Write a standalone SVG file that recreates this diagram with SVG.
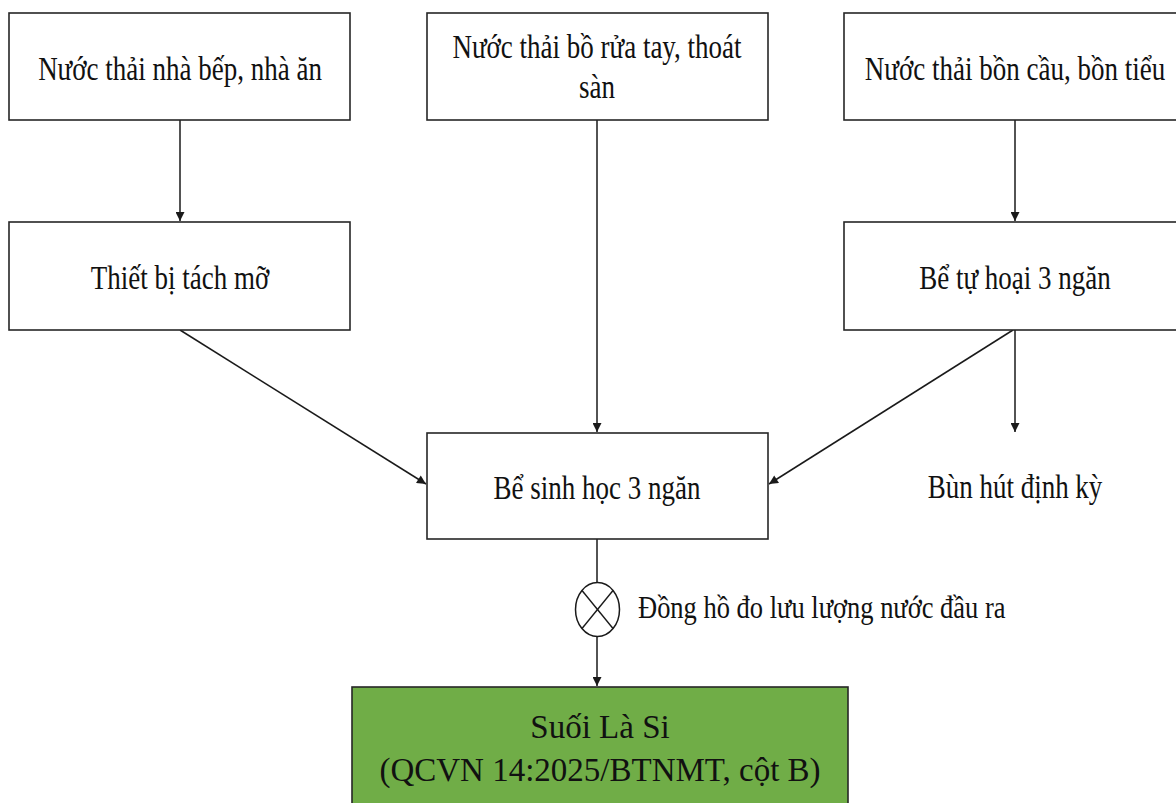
<svg xmlns="http://www.w3.org/2000/svg" width="1176" height="803" viewBox="0 0 1176 803">
  <style>
    .box { fill: #ffffff; stroke: #262626; stroke-width: 1.6; }
    .green { fill: #70ad47; stroke: #262626; stroke-width: 1.6; }
    .lbl { font-family: "Liberation Serif", "Times New Roman", serif; font-size: 27px; fill: #111111; text-anchor: middle; }
    .big { font-family: "Liberation Serif", "Times New Roman", serif; font-size: 33px; fill: #111111; text-anchor: middle; }
    .edge { fill: none; stroke: #1a1a1a; stroke-width: 1.5; }
  </style>
  <defs>
    <marker id="arrow" viewBox="0 0 10 10" refX="10" refY="5" markerWidth="10" markerHeight="9" markerUnits="userSpaceOnUse" orient="auto">
      <path d="M0,0 L10,5 L0,10 Z" fill="#1a1a1a"/>
    </marker>
  </defs>
  <rect width="1176" height="803" fill="#ffffff"/>

  <g id="connectors">
    <line class="edge" x1="180" y1="120" x2="180" y2="221" marker-end="url(#arrow)"/>
    <line class="edge" x1="597" y1="120" x2="597" y2="432" marker-end="url(#arrow)"/>
    <line class="edge" x1="1015" y1="120" x2="1015" y2="221" marker-end="url(#arrow)"/>
    <line class="edge" x1="180" y1="330" x2="426" y2="484" marker-end="url(#arrow)"/>
    <line class="edge" x1="1013" y1="330" x2="769" y2="484" marker-end="url(#arrow)"/>
    <line class="edge" x1="1015" y1="330" x2="1015" y2="432" marker-end="url(#arrow)"/>
    <line class="edge" x1="597" y1="539" x2="597" y2="582"/>
    <line class="edge" x1="597" y1="637" x2="597" y2="686" marker-end="url(#arrow)"/>
  </g>

  <g id="meter">
    <ellipse cx="597.5" cy="609.5" rx="22" ry="27" fill="#ffffff" stroke="#1a1a1a" stroke-width="1.5"/>
    <line x1="582" y1="590.5" x2="613" y2="628.5" stroke="#1a1a1a" stroke-width="1.4"/>
    <line x1="613" y1="590.5" x2="582" y2="628.5" stroke="#1a1a1a" stroke-width="1.4"/>
    <text class="lbl" style="text-anchor:start; font-size:26.5px" transform="translate(638,618) scale(1,1.22)">Đồng hồ đo lưu lượng nước đầu ra</text>
  </g>

  <g id="kitchen-wastewater">
    <rect class="box" x="9" y="13" width="341" height="107"/>
    <text class="lbl" transform="translate(180,80) scale(1,1.22)">Nước thải nhà bếp, nhà ăn</text>
  </g>

  <g id="handwash-wastewater">
    <rect class="box" x="427" y="13" width="341" height="107"/>
    <text class="lbl" transform="translate(597,58) scale(1,1.22)">Nước thải bồ rửa tay, thoát</text>
    <text class="lbl" transform="translate(597,98) scale(1,1.22)">sàn</text>
  </g>

  <g id="toilet-wastewater">
    <rect class="box" x="844" y="13" width="342" height="107"/>
    <text class="lbl" transform="translate(1015,80) scale(1,1.22)">Nước thải bồn cầu, bồn tiểu</text>
  </g>

  <g id="grease-trap">
    <rect class="box" x="9" y="222" width="341" height="108"/>
    <text class="lbl" transform="translate(180,289) scale(1,1.22)">Thiết bị tách mỡ</text>
  </g>

  <g id="septic-tank">
    <rect class="box" x="844" y="222" width="342" height="108"/>
    <text class="lbl" transform="translate(1015,289) scale(1,1.22)">Bể tự hoại 3 ngăn</text>
  </g>

  <g id="bio-tank">
    <rect class="box" x="427" y="433" width="341" height="106"/>
    <text class="lbl" transform="translate(597,499) scale(1,1.22)">Bể sinh học 3 ngăn</text>
  </g>

  <g id="sludge">
    <text class="lbl" transform="translate(1015,498) scale(1,1.22)">Bùn hút định kỳ</text>
  </g>

  <g id="discharge">
    <rect class="green" x="352" y="687" width="496" height="130"/>
    <text class="big" x="600" y="738">Suối Là Si</text>
    <text class="big" x="600" y="781">(QCVN 14:2025/BTNMT, cột B)</text>
  </g>
</svg>
